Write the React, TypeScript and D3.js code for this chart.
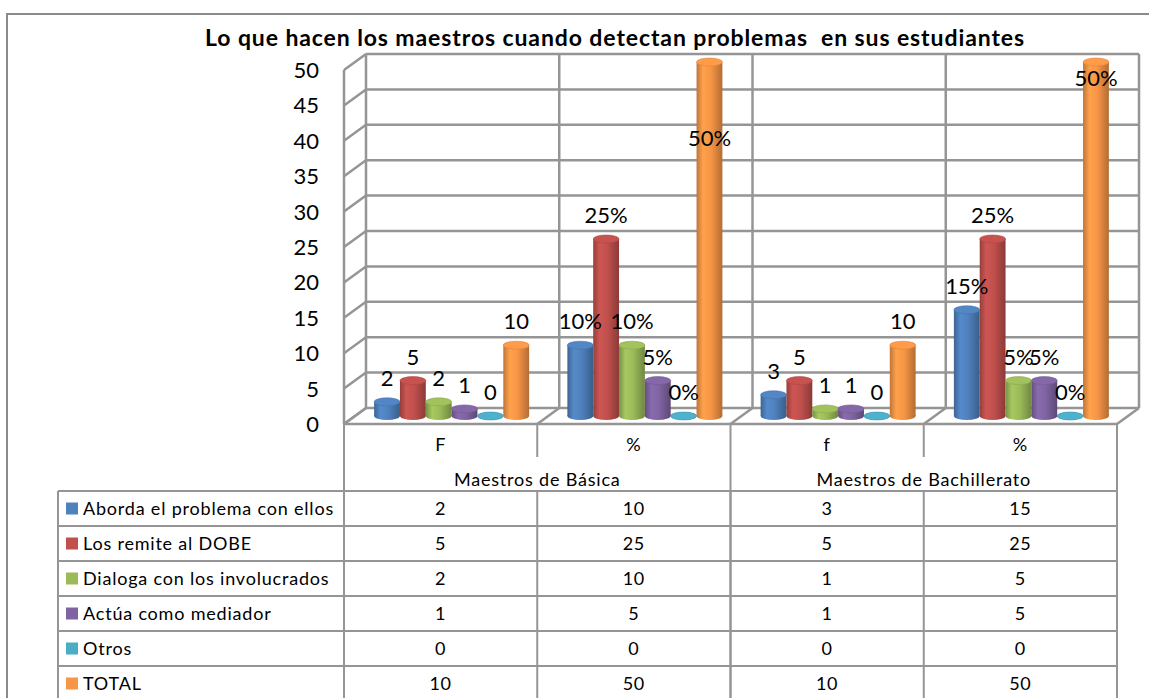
import React from 'react';
import * as d3 from 'd3';

const title = 'Lo que hacen los maestros cuando detectan problemas  en sus estudiantes';
const categories = ['F', '%', 'f', '%'];
const categoryIsPercent = [false, true, false, true];
const groups = ['Maestros de Básica', 'Maestros de Bachillerato'];
const seriesNames = [
  'Aborda el problema con ellos',
  'Los remite al DOBE',
  'Dialoga con los involucrados',
  'Actúa como mediador',
  'Otros',
  'TOTAL',
];
const seriesColors = ['#4F81BD', '#C0504D', '#9BBB59', '#8064A2', '#4BACC6', '#F79646'];
const aborda = [2, 10, 3, 15];
const remite = [5, 25, 5, 25];
const dialoga = [2, 10, 1, 5];
const actua = [1, 5, 1, 5];
const otros = [0, 0, 0, 0];
const total = [10, 50, 10, 50];
const seriesValues = [aborda, remite, dialoga, actua, otros, total];
const yTicks = [0, 5, 10, 15, 20, 25, 30, 35, 40, 45, 50];
// Excel pulls labels that would leave the plot back inside (in value units)
const overflowLabelValue = [null, 39.3, null, 47.7];

const W = 1149;
const H = 698;
const FONT = 'Lato, Carlito, "Open Sans", sans-serif';
const GRID = '#959595';

export default function App() {
  const frontLeft = 344;
  const frontRight = 1117;
  const dx = 22;
  const dy = -16;
  const yFront = d3.scaleLinear().domain([0, 50]).range([424, 70]);
  const yBack = (v: number) => yFront(v) + dy;
  const yMid = (v: number) => yFront(v) + dy / 2;
  const x = d3.scaleBand<number>().domain(d3.range(categories.length)).range([frontLeft, frontRight]).padding(0);
  const bw = x.bandwidth();
  const barsSpan = 155;
  const inner = d3.scaleBand<number>().domain(d3.range(seriesNames.length)).range([0, barsSpan]).padding(0);
  const barW = inner.bandwidth();
  const ry = 4;

  const tableTop = 424;
  const headerBottom = 457;
  const rowH = 35;
  const rowsTop = 491;
  const legendLeft = 58;
  const tFont = 18;
  const tSpace = 0.8;

  const grad = (c: string, i: number) => {
    const base = d3.color(c)!;
    return (
      <linearGradient id={`g${i}`} key={`g${i}`} x1="0" x2="1" y1="0" y2="0">
        <stop offset="0%" stopColor={base.darker(0.7).formatHex()} />
        <stop offset="25%" stopColor={base.brighter(0.2).formatHex()} />
        <stop offset="55%" stopColor={base.formatHex()} />
        <stop offset="100%" stopColor={base.darker(0.9).formatHex()} />
      </linearGradient>
    );
  };

  return (
    <svg width={W} height={H} style={{ position: 'absolute', left: 0, top: 0, display: 'block', background: '#fff' }}>
      <defs>{seriesColors.map((c, i) => grad(c, i))}</defs>
      {/* outer chart border */}
      <path d={`M7,${H + 5} V14 H${W + 5}`} fill="none" stroke="#8a8a8a" strokeWidth={2} />
      <text x={615} y={46} textAnchor="middle" fontFamily={FONT} fontWeight="bold" fontSize={23} letterSpacing={0.9} style={{ whiteSpace: 'pre' }}>
        {title}
      </text>

      {/* side wall gridlines */}
      <line x1={frontLeft} x2={frontLeft} y1={yFront(0)} y2={yFront(50)} stroke={GRID} strokeWidth={2.5} />
      {yTicks.map((t) => (
        <line key={`sd${t}`} x1={frontLeft} x2={frontLeft + dx} y1={yFront(t)} y2={yBack(t)} stroke={GRID} strokeWidth={2.5} />
      ))}
      {/* back wall gridlines */}
      {yTicks.map((t) => (
        <line key={`bk${t}`} x1={frontLeft + dx} x2={frontRight + dx} y1={yBack(t)} y2={yBack(t)} stroke={GRID} strokeWidth={2.5} />
      ))}
      {d3.range(categories.length + 1).map((i) => {
        const xx = (i < categories.length ? x(i)! : frontRight) + dx;
        return <line key={`bv${i}`} x1={xx} x2={xx} y1={yBack(0)} y2={yBack(50)} stroke={GRID} strokeWidth={2.5} />;
      })}
      {/* floor */}
      <line x1={frontLeft} x2={frontRight} y1={yFront(0)} y2={yFront(0)} stroke={GRID} strokeWidth={2.5} />
      {d3.range(categories.length + 1).map((i) => {
        const xx = i < categories.length ? x(i)! : frontRight;
        return <line key={`fd${i}`} x1={xx} x2={xx + dx} y1={yFront(0)} y2={yBack(0)} stroke={GRID} strokeWidth={2.5} />;
      })}

      {/* y axis labels */}
      {yTicks.map((t) => (
        <text key={`yl${t}`} x={319} y={yFront(t) + 8} textAnchor="end" fontFamily={FONT} fontSize={22} fill="#000">
          {t}
        </text>
      ))}

      {/* bars */}
      {categories.map((_, ci) => {
        const cx0 = x(ci)! + bw / 2 + dx / 2 - barsSpan / 2;
        return seriesValues.map((vals, si) => {
          const v = vals[ci];
          const bx = cx0 + inner(si)!;
          const yt = yMid(v);
          const yb = yMid(0);
          const cx = bx + barW / 2;
          const base = d3.color(seriesColors[si])!;
          return (
            <g key={`b${ci}-${si}`}>
              <ellipse cx={cx} cy={yb} rx={barW / 2} ry={ry} fill={`url(#g${si})`} />
              {v > 0 && <rect x={bx} y={yt} width={barW} height={yb - yt} fill={`url(#g${si})`} />}
              <ellipse cx={cx} cy={yt} rx={barW / 2} ry={ry} fill={base.brighter(0.1).formatHex()} stroke={base.darker(0.3).formatHex()} strokeWidth={0.6} />
            </g>
          );
        });
      })}

      {/* data labels */}
      {categories.map((_, ci) => {
        const cx0 = x(ci)! + bw / 2 + dx / 2 - barsSpan / 2;
        return seriesValues.map((vals, si) => {
          const v = vals[ci];
          const cx = cx0 + inner(si)! + barW / 2;
          let ly = yMid(v) - 16;
          if (ly < yBack(50)) ly = yMid(overflowLabelValue[ci] ?? v) + 8;
          return (
            <text key={`l${ci}-${si}`} x={cx} y={ly} textAnchor="middle" fontFamily={FONT} fontSize={22} fill="#000">
              {categoryIsPercent[ci] ? `${v}%` : `${v}`}
            </text>
          );
        });
      })}

      {/* data table */}
      {d3.range(categories.length + 1).map((i) => {
        const xx = i < categories.length ? x(i)! : frontRight;
        const full = i === 0 || i === 2 || i === categories.length;
        return (
          <line key={`tv${i}`} x1={xx} x2={xx} y1={tableTop} y2={full ? H + 5 : headerBottom} stroke={GRID} strokeWidth={2} />
        );
      })}
      {d3.range(1, categories.length).map((i) => (
        <line key={`tv2${i}`} x1={x(i)!} x2={x(i)!} y1={rowsTop} y2={H + 5} stroke={GRID} strokeWidth={2} />
      ))}
      <line x1={legendLeft} x2={legendLeft} y1={rowsTop} y2={H + 5} stroke={GRID} strokeWidth={2} />
      {d3.range(seriesNames.length + 1).map((r) => (
        <line key={`th${r}`} x1={legendLeft} x2={frontRight} y1={rowsTop + r * rowH} y2={rowsTop + r * rowH} stroke={GRID} strokeWidth={2} />
      ))}
      {categories.map((c, ci) => (
        <text key={`hc${ci}`} x={x(ci)! + bw / 2} y={451} textAnchor="middle" fontFamily={FONT} fontSize={tFont} letterSpacing={tSpace}>
          {c}
        </text>
      ))}
      {groups.map((g, gi) => (
        <text key={`hg${gi}`} x={x(gi * 2 + 1)!} y={486} textAnchor="middle" fontFamily={FONT} fontSize={tFont} letterSpacing={tSpace}>
          {g}
        </text>
      ))}
      {seriesNames.map((n, si) => {
        const ry0 = rowsTop + si * rowH;
        return (
          <g key={`r${si}`}>
            <rect x={66} y={ry0 + rowH / 2 - 6} width={12} height={12} fill={seriesColors[si]} />
            <text x={83} y={ry0 + rowH / 2 + 6} fontFamily={FONT} fontSize={tFont} letterSpacing={tSpace}>
              {n}
            </text>
            {categories.map((_, ci) => (
              <text key={`v${ci}`} x={x(ci)! + bw / 2} y={ry0 + rowH / 2 + 6} textAnchor="middle" fontFamily={FONT} fontSize={tFont} letterSpacing={tSpace}>
                {seriesValues[si][ci]}
              </text>
            ))}
          </g>
        );
      })}
    </svg>
  );
}
